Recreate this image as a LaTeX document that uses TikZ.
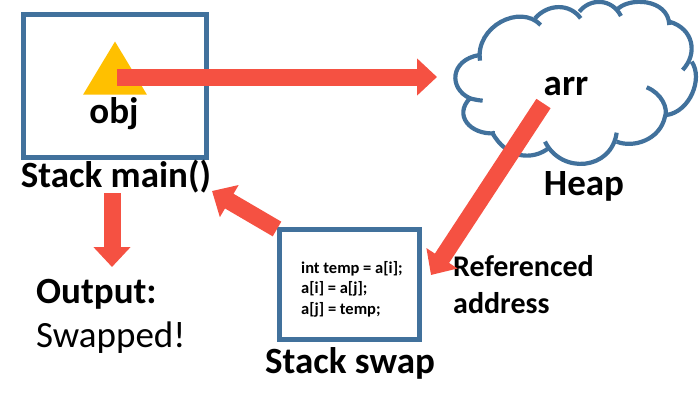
\documentclass[tikz,border=0pt]{standalone}
\usepackage{fontspec}
\setmainfont{Carlito}
\usepackage{xcolor}
\usetikzlibrary{arrows.meta, positioning, shapes.geometric}
\definecolor{mblue}{HTML}{41719C}
\definecolor{mred}{HTML}{F55142}
\definecolor{mgold}{HTML}{FFC000}
\tikzset{
  framebox/.style={draw=mblue, line width=5pt, fill=white, inner sep=0pt},
  lbl/.style={font=\fontsize{37}{44}\selectfont\bfseries, inner sep=0pt},
  sublbl/.style={font=\fontsize{30}{37}\selectfont\bfseries, inner sep=0pt, align=left},
  fatarr/.style={-{Triangle[length=20pt, width=36pt]}, line width=17pt, mred},
  lobe/.style={draw=mblue, line width=4.2pt},
}
\begin{document}
\begin{tikzpicture}[x=1pt, y=-1pt]
  \useasboundingbox (0,0) rectangle (700,405);
  % stack frames
  \node[framebox, minimum width=183pt, minimum height=142.5pt] (mainbox) at (115,85.75) {};
  \node[framebox, minimum width=140pt, minimum height=110pt] (swapbox) at (349.5,284.5) {};
  \node[isosceles triangle, isosceles triangle apex angle=62, shape border rotate=90,
        fill=mgold, inner sep=0pt, minimum height=53pt] (tri) at (115,76.5) {};
  % heap cloud, zoom coordinates scaled down
  \begin{scope}[shift={(420,0)}, x=0.3333pt, y=-0.3333pt]
    \draw[lobe] (180,182) .. controls (165,80) and (300,10) .. (362,75);
    \draw[lobe] (345,55) .. controls (385,10) and (450,10) .. (482,55);
    \draw[lobe] (478,35) .. controls (510,-6) and (575,-6) .. (603,48);
    \draw[lobe] (590,30) .. controls (625,-10) and (745,-5) .. (748,75);
    \draw[lobe] (748,65) .. controls (820,85) and (835,160) .. (788,210);
    \draw[lobe] (815,185) .. controls (850,235) and (810,335) .. (740,345);
    \draw[lobe] (680,262) .. controls (725,280) and (745,325) .. (735,350)
      .. controls (720,420) and (640,445) .. (590,425);
    \draw[lobe] (590,398) .. controls (575,510) and (425,525) .. (375,425);
    \draw[lobe] (385,445) .. controls (340,480) and (260,480) .. (215,395);
    \draw[lobe] (225,400) .. controls (150,405) and (100,345) .. (150,295)
      .. controls (160,298) and (175,301) .. (188,302);
    \draw[lobe] (150,295) .. controls (85,265) and (90,180) .. (178,165);
  \end{scope}
  % labels
  \node[lbl] (objlbl) at (114,114) {obj};
  \node[lbl] (mainlbl) at (116,177) {Stack main()};
  \node[lbl] (arrlbl) at (566,86) {arr};
  \node[lbl] (heaplbl) at (584,186) {Heap};
  \node[lbl] (swaplbl) at (350,363) {Stack swap};
  \node[sublbl, anchor=west] (reflbl) at (453,285) {Referenced\\address};
  \node[font=\fontsize{16.5}{20.5}\selectfont\bfseries, align=left, inner sep=0pt, anchor=west]
    (code) at (301,289) {int temp = a[i];\\a[i] = a[j];\\a[j] = temp;};
  \node[lbl, anchor=west] (outlbl) at (36,294) {Output:};
  \node[font=\fontsize{37}{44}\selectfont, inner sep=0pt, anchor=west] (swapped) at (36,338) {Swapped!};
  % arrow ends
  \coordinate (objref) at (117,77);
  \coordinate (heapin) at (437,77);
  \coordinate (arrref) at (543.5,103.5);
  \coordinate (swapin) at (431,275);
  \coordinate (swapout) at (277,229);
  \coordinate (mainin) at (212,191);
  \coordinate (mainout) at (112,193);
  \coordinate (outin) at (112,267);
  % arrows
  \draw[fatarr] (objref) -- (heapin);
  \draw[fatarr] (arrref) -- (swapin);
  \draw[fatarr] (swapout) -- (mainin);
  \draw[fatarr] (mainout) -- (outin);
\end{tikzpicture}
\end{document}
